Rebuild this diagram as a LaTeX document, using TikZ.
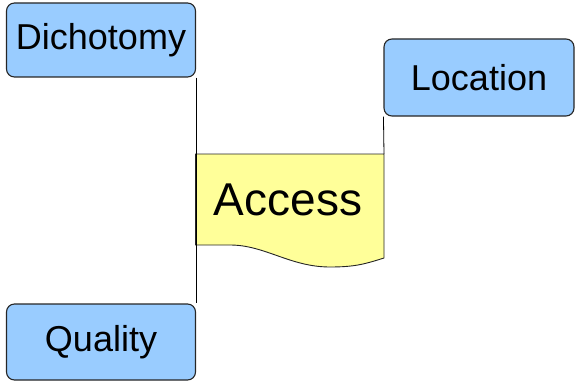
\documentclass[tikz,border=0pt]{standalone}
\usepackage{fontspec}
\setmainfont{Liberation Sans}
\begin{document}
\begin{tikzpicture}[x=1pt,y=1pt,
  topic/.style={draw=black!85, line width=1.1pt, fill=boxblue, rounded corners=8pt,
    inner sep=0pt, minimum width=189pt, font=\fontsize{36}{40}\selectfont},
  doc/.style={draw=black!85, line width=0.9pt, fill=docyellow},
  link/.style={draw=black, line width=0.8pt}]
\definecolor{boxblue}{HTML}{99CCFF}
\definecolor{docyellow}{HTML}{FFFF99}
\useasboundingbox (0,0) rectangle (575,381);

% topic boxes
\node[topic, minimum height=74pt] (dich) at (101,341) {Dichotomy};
\node[topic, minimum height=76pt] (qual) at (101,39) {Quality};
\node[topic, minimum width=190pt, minimum height=77pt] (loc) at (479,303.5) {Location};

% document shape for the central item
\coordinate (atl) at (195.5,227);
\coordinate (atr) at (384,227);
\coordinate (abr) at (384,123);
\coordinate (abl) at (195.5,136);
\draw[doc] (atl) -- (atr) -- (abr)
  .. controls (365,117) and (355,114) .. (330,114)
  .. controls (290,114) and (265,136) .. (230,136) -- (abl) -- cycle;
\node[anchor=base, inner sep=0pt, font=\fontsize{46}{50}\selectfont] (acc) at (288,166) {Access};

% connectors
\draw[link] (dich.south east) -- (qual.north east);
\draw[link] (loc.south west) -- (atr);
\end{tikzpicture}
\end{document}
